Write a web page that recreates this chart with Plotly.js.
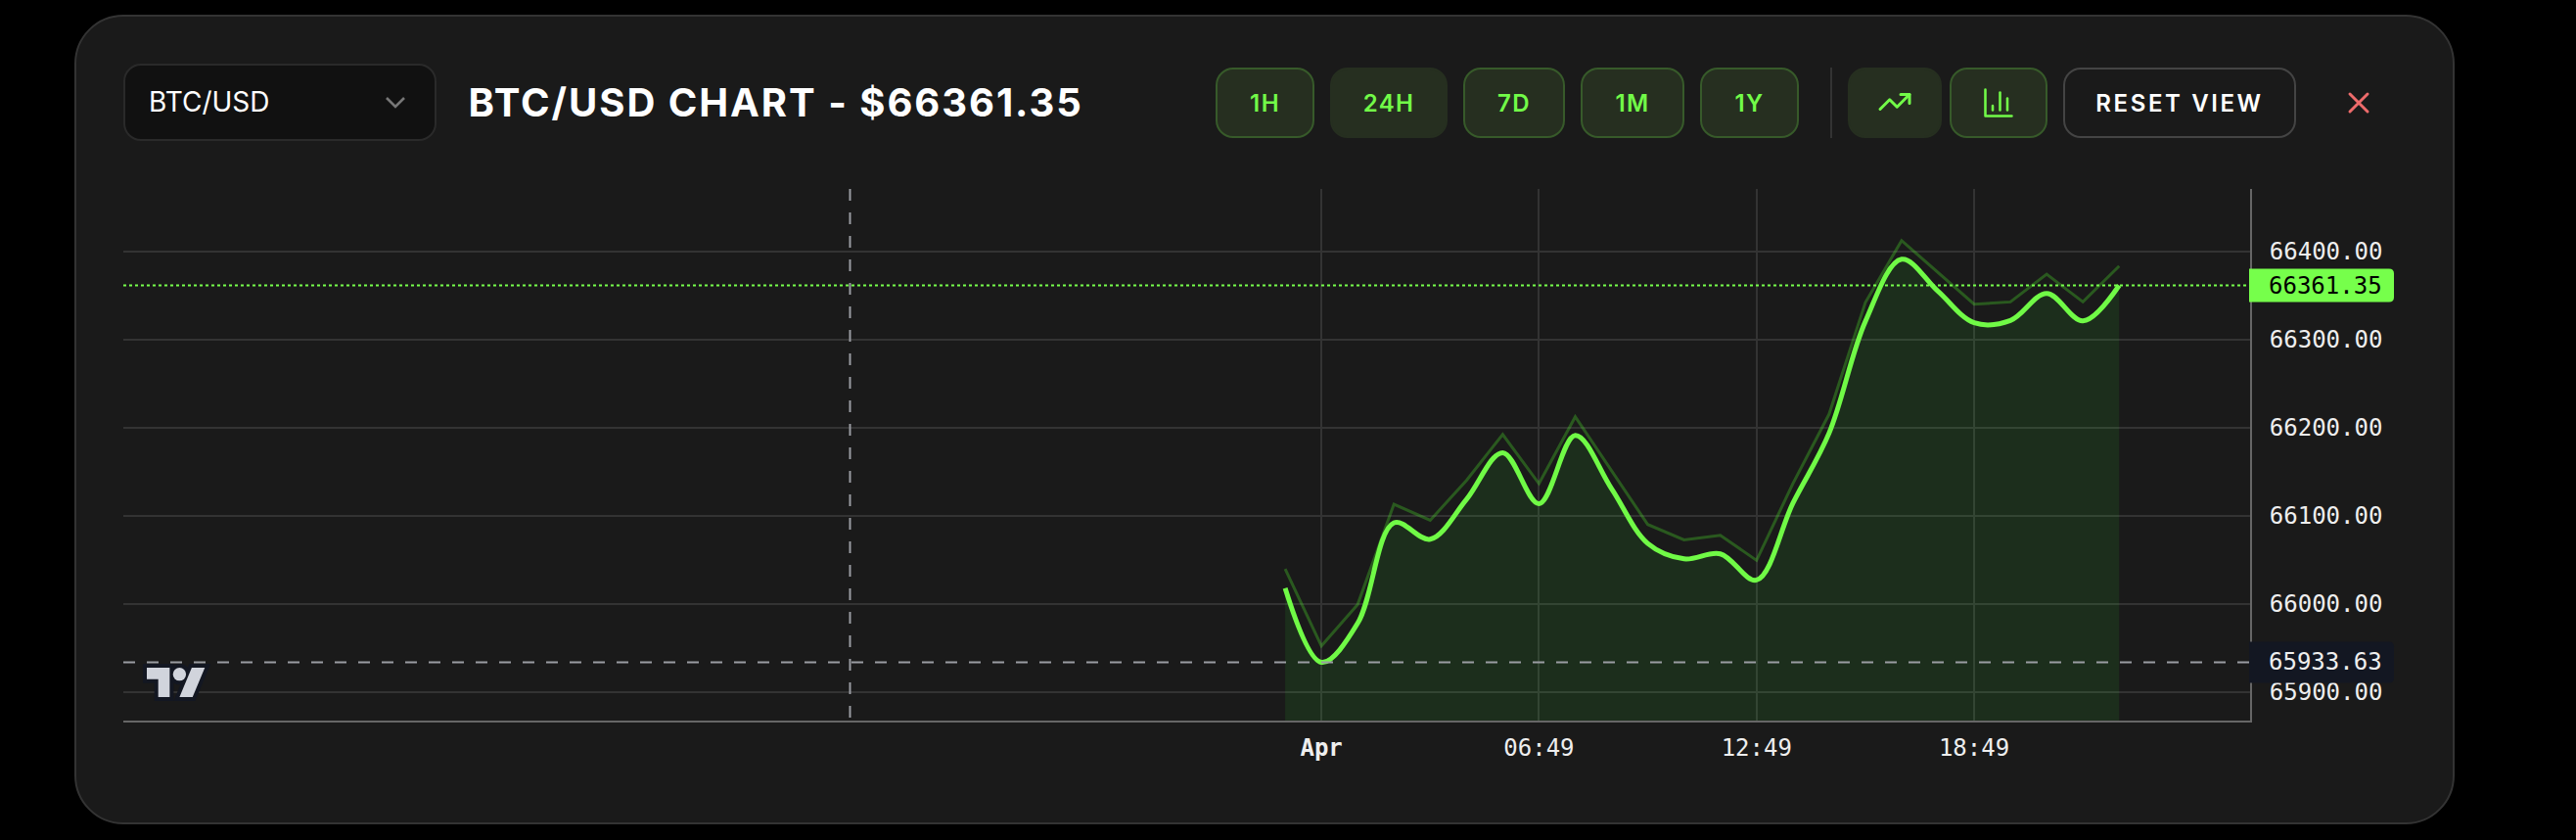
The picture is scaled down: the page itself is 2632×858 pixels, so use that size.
<!DOCTYPE html>
<html>
<head>
<meta charset="utf-8">
<script src="https://cdn.plot.ly/plotly-3.0.1.min.js"></script>
<style>
html,body{margin:0;padding:0;background:#000;width:2632px;height:858px;overflow:hidden}
*{box-sizing:border-box}
#panel{position:absolute;left:76px;top:15px;width:2432px;height:827px;background:#1a1a1a;border:2px solid #333;border-radius:50px}
#chart{position:absolute;left:0;top:0;width:2632px;height:858px}
.ui{position:absolute;font-family:Inter,sans-serif}
#select{left:126px;top:65px;width:320px;height:79px;background:#111;border:2px solid #2a2a2a;border-radius:18px;color:#fff;font-size:28px;line-height:75px;padding-left:24px}
#chev{position:absolute;left:392px;top:94px}
#title{left:478.5px;top:80px;color:#fff;font-size:40px;font-weight:700;letter-spacing:1.95px;line-height:50px;white-space:nowrap}
.btn{position:absolute;top:69px;height:72px;border-radius:18px;background:#262f20;border:2px solid #375a2a;color:#72fb48;font-family:Inter,sans-serif;font-size:24px;font-weight:600;letter-spacing:1.4px;display:flex;align-items:center;justify-content:center}
.btn.on{border-color:#262f20}
#reset{background:#1a1a1a;border-color:#444;color:#fff;letter-spacing:2.6px}
#sep{position:absolute;left:1870px;top:69px;width:2px;height:72px;background:#333}
svg.icon{position:absolute;fill:none;stroke:#72fb48;stroke-width:2;stroke-linecap:round;stroke-linejoin:round}
</style>
</head>
<body>
<div id="panel"></div>
<div id="chart"></div>
<div class="ui" id="select">BTC/USD</div>
<svg id="chev" width="24" height="22" viewBox="0 0 24 22" style="position:absolute"><path d="M3 6 L12 15 L21 6" fill="none" stroke="#777" stroke-width="2.6"/></svg>
<div class="ui" id="title">BTC/USD CHART - $66361.35</div>
<div id="buttons"></div>
<div id="sep"></div>
<svg class="icon" style="left:1918px;top:86px" width="36" height="36" viewBox="0 0 24 24"><polyline points="22 7 13.5 15.5 8.5 10.5 2 17"/><polyline points="16 7 22 7 22 13"/></svg>
<svg class="icon" style="left:2024px;top:87px;stroke-width:1.7" width="36" height="36" viewBox="0 0 24 24"><path d="M3 3v18h18"/><path d="M18 17V9"/><path d="M13 17V5"/><path d="M8 17v-3"/></svg>
<svg style="position:absolute;left:2398px;top:93px" width="24" height="24" viewBox="0 0 24 24"><path d="M3 3 L21 21 M21 3 L3 21" stroke="#ee6b6b" stroke-width="3" stroke-linecap="round"/></svg>
<svg style="position:absolute;left:140px;top:671px" width="84" height="52" viewBox="0 0 84 52">
  <g transform="translate(10 11) scale(1.67) translate(0 -4)" stroke="#131722" stroke-width="4.8" stroke-linejoin="miter" fill="#131722">
    <path d="M14 22H7V11H0V4h14v18zM28 22h-8l7.5-18h8L28 22z"/><circle cx="20" cy="8" r="4"/>
  </g>
  <g transform="translate(10 11) scale(1.67) translate(0 -4)" fill="#d1d4dc">
    <path d="M14 22H7V11H0V4h14v18zM28 22h-8l7.5-18h8L28 22z"/><circle cx="20" cy="8" r="4"/>
  </g>
</svg>
<script>
// ---- data ----
const times = [
  '2024-03-31 23:49','2024-04-01 00:49','2024-04-01 01:49','2024-04-01 02:49',
  '2024-04-01 03:49','2024-04-01 04:49','2024-04-01 05:49','2024-04-01 06:49',
  '2024-04-01 07:49','2024-04-01 08:49','2024-04-01 09:49','2024-04-01 10:49',
  '2024-04-01 11:49','2024-04-01 12:49','2024-04-01 13:49','2024-04-01 14:49',
  '2024-04-01 15:49','2024-04-01 16:49','2024-04-01 17:49','2024-04-01 18:49',
  '2024-04-01 19:49','2024-04-01 20:49','2024-04-01 21:49','2024-04-01 22:49'
];
const priceCurve = [
  66017.8,65933.63,65978,66091.9,66073.3,66118.5,66171.5,66113.7,
  66191,66130.7,66068.5,66051,66056.7,66027,66114,66193.7,
  66320.4,66391,66354.8,66318.9,66321.5,66352.2,66321,66361.35
];
const upperLine = [
  66039.6,65952.2,65999.3,66113,66094.8,66140,66192.2,66136.3,
  66212.2,66151,66090,66072.6,66077.8,66049.3,66136.3,66215.2,
  66341.9,66412.2,66376,66340,66342.6,66374,66342.6,66383.3
];
const priceTicks = [65900,66000,66100,66200,66300,66400];
const timeTicks = ['2024-04-01 00:49','2024-04-01 06:49','2024-04-01 12:49','2024-04-01 18:49'];
const timeTickLabels = ['<b>Apr</b>','06:49','12:49','18:49'];
const lastPrice = 66361.35;
const lowPrice = 65933.63;
const crosshairTime = '2024-03-31 11:49';
const timeRange = ['2024-03-30 15:46:36','2024-04-02 02:25:36'];
const priceRange = [65867.5,66470.8];
const buttonLabels = ['1H','24H','7D','1M','1Y','','','RESET VIEW'];
const buttonEdges = [[1242,1343],[1359,1479],[1495,1599],[1615,1721],[1737,1838],[1888,1984],[1992,2092],[2108,2346]];
const activeButtons = [1,5];

// ---- header buttons ----
const holder = document.getElementById('buttons');
buttonLabels.forEach((t,i)=>{
  const b=document.createElement('div');
  b.className='btn'+(activeButtons.includes(i)?' on':'');
  if(t==='RESET VIEW') b.id='reset';
  b.style.left=buttonEdges[i][0]+'px';
  b.style.width=(buttonEdges[i][1]-buttonEdges[i][0])+'px';
  b.textContent=t;
  holder.appendChild(b);
});

const green='#76ff4b';
const mono='"DejaVu Sans Mono", monospace';
const traces=[
  {x:times,y:upperLine,type:'scatter',mode:'lines',line:{color:'rgba(85,255,45,0.28)',width:3},hoverinfo:'skip'},
  {x:times,y:priceCurve,type:'scatter',mode:'lines',line:{color:'#70fa46',width:5,shape:'spline',smoothing:1},
   fill:'tozeroy',fillcolor:'rgba(60,255,50,0.09)',hoverinfo:'skip'}
];
function tag(y,color,halfH){
  const w=147,r=5;
  return {type:'path',xref:'paper',yref:'y',xsizemode:'pixel',ysizemode:'pixel',xanchor:1,yanchor:y,
    path:`M-1,${-halfH} L${w-r},${-halfH} Q${w},${-halfH} ${w},${-halfH+r} L${w},${halfH-r} Q${w},${halfH} ${w-r},${halfH} L-1,${halfH} Z`,
    fillcolor:color,line:{width:0},layer:'above'};
}
const layout={
  width:2632,height:858,
  margin:{l:126,r:333,t:193,b:122,pad:0},
  paper_bgcolor:'rgba(0,0,0,0)',plot_bgcolor:'rgba(0,0,0,0)',
  showlegend:false,
  xaxis:{type:'date',range:timeRange,tickmode:'array',tickvals:timeTicks,ticktext:timeTickLabels,
    showgrid:true,gridcolor:'#333',gridwidth:2,zeroline:false,showline:true,linecolor:'#666',linewidth:2,
    ticks:'',tickangle:0,ticklabelstandoff:5,tickfont:{family:mono,size:24,color:'#eeeeee'},fixedrange:true},
  yaxis:{side:'right',range:priceRange,tickmode:'array',tickvals:priceTicks,tickformat:'.2f',
    showgrid:true,gridcolor:'#333',gridwidth:2,zeroline:false,showline:true,linecolor:'#666',linewidth:2,
    ticks:'',ticklabelstandoff:13,tickfont:{family:mono,size:24,color:'#eeeeee'},fixedrange:true},
  shapes:[
    {type:'line',xref:'paper',x0:0,x1:1,yref:'y',y0:lastPrice,y1:lastPrice,line:{color:green,width:2,dash:'3px,3px'},layer:'above'},
    {type:'line',xref:'paper',x0:0,x1:1,yref:'y',y0:lowPrice,y1:lowPrice,line:{color:'#9a9ca2',width:2,dash:'12px,12px'},layer:'above'},
    {type:'line',xref:'x',x0:crosshairTime,x1:crosshairTime,yref:'paper',y0:1,y1:0,line:{color:'#9a9ca2',width:2,dash:'12px,12px'},layer:'above'},
    tag(lastPrice,green,17),
    tag(lowPrice,'#131722',21)
  ],
  annotations:[
    {xref:'paper',yref:'y',x:1,y:lastPrice,xanchor:'left',yanchor:'middle',xshift:17,showarrow:false,text:lastPrice.toFixed(2),font:{family:mono,size:24,color:'#000'}},
    {xref:'paper',yref:'y',x:1,y:lowPrice,xanchor:'left',yanchor:'middle',xshift:17,showarrow:false,text:lowPrice.toFixed(2),font:{family:mono,size:24,color:'#eeeeee'}}
  ]
};
Plotly.newPlot('chart',traces,layout,{staticPlot:true,displayModeBar:false});
</script>
</body>
</html>
